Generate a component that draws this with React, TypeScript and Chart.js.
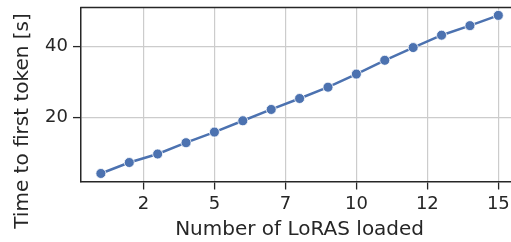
import React, { useEffect, useRef } from "react";
import { Chart, registerables } from "chart.js";

Chart.register(...registerables);

// ---- data ----
const loraCounts = [1, 2, 3, 4, 5, 6, 7, 8, 9, 10, 11, 12, 13, 14, 15];
const ttftSeconds = [4.1, 7.2, 9.6, 12.8, 15.8, 19.0, 22.2, 25.3, 28.5, 32.2, 36.1, 39.7, 43.2, 45.9, 48.8];
const xTickValues = [2.5, 5, 7.5, 10, 12.5, 15];
const xTickLabels = ["2", "5", "7", "10", "12", "15"];
const yTickValues = [20, 40];
const xLimits = [0.3, 15.7];
const yLimits = [1.83, 51.03];
const xTitle = "Number of LoRAS loaded";
const yTitle = "Time to first token [s]";

const TEXT = "#262626";
const BLUE = "#4C72B0";
const FONT = "'DejaVu Sans'";

const framePlugin = {
  id: "frameAndYTitle",
  afterDraw(chart: any) {
    const { ctx, chartArea } = chart;
    ctx.save();
    ctx.strokeStyle = TEXT;
    ctx.lineWidth = 1.5;
    ctx.beginPath();
    ctx.moveTo(chartArea.left - 0.75, chartArea.top);
    ctx.lineTo(chartArea.right + 0.75, chartArea.top);
    ctx.moveTo(chartArea.right, chartArea.top);
    ctx.lineTo(chartArea.right, chartArea.bottom);
    ctx.stroke();
    ctx.translate(28, 121);
    ctx.rotate(-Math.PI / 2);
    ctx.font = `20px ${FONT}`;
    ctx.fillStyle = TEXT;
    ctx.textAlign = "center";
    ctx.textBaseline = "alphabetic";
    ctx.fillText(yTitle, 0, 0);
    ctx.restore();
  },
};

const zeroPad = (scale: any) => {
  scale.paddingTop = 0;
  scale.paddingBottom = 0;
  scale.paddingLeft = 0;
  scale.paddingRight = 0;
};

export default function App() {
  const ref = useRef<HTMLCanvasElement>(null);

  useEffect(() => {
    if (!ref.current) return;
    const chart = new Chart(ref.current, {
      type: "line",
      data: {
        datasets: [
          {
            data: loraCounts.map((x, i) => ({ x, y: ttftSeconds[i] })),
            borderColor: BLUE,
            backgroundColor: BLUE,
            borderWidth: 2.5,
            pointRadius: 5,
            pointBackgroundColor: BLUE,
            pointBorderColor: "#ffffff",
            pointBorderWidth: 0.8,
            tension: 0,
          },
        ],
      },
      options: {
        animation: false,
        responsive: false,
        layout: { padding: { top: 7.5, left: 0, right: 1, bottom: 0 } },
        plugins: { legend: { display: false }, tooltip: { enabled: false } },
        scales: {
          x: {
            type: "linear",
            min: xLimits[0],
            max: xLimits[1],
            afterBuildTicks: (scale: any) => {
              scale.ticks = xTickValues.map((v) => ({ value: v }));
            },
            afterFit: (scale: any) => {
              scale.height = 60.5;
              zeroPad(scale);
            },
            ticks: {
              autoSkip: false,
              maxRotation: 0,
              padding: 4,
              color: TEXT,
              font: { family: FONT, size: 18 },
              callback: (_v: any, i: number) => xTickLabels[i],
            },
            grid: {
              color: "#cccccc",
              lineWidth: 1.2,
              tickColor: TEXT,
              tickLength: 8,
              tickWidth: 1.3,
            },
            border: { color: TEXT, width: 1.5 },
            title: {
              display: true,
              text: xTitle,
              color: TEXT,
              font: { family: FONT, size: 20 },
              padding: { top: 0, bottom: 0 },
            },
          },
          y: {
            type: "linear",
            min: yLimits[0],
            max: yLimits[1],
            afterBuildTicks: (scale: any) => {
              scale.ticks = yTickValues.map((v) => ({ value: v }));
            },
            afterFit: (scale: any) => {
              scale.width = 81;
              zeroPad(scale);
            },
            ticks: {
              padding: 5,
              color: TEXT,
              font: { family: FONT, size: 18 },
            },
            grid: {
              color: "#cccccc",
              lineWidth: 1.2,
              tickColor: TEXT,
              tickLength: 8,
              tickWidth: 1.3,
            },
            border: { color: TEXT, width: 1.5 },
          },
        },
      },
      plugins: [framePlugin],
    });
    return () => chart.destroy();
  }, []);

  return (
    <div
      style={{
        position: "fixed",
        left: 0,
        top: 0,
        width: 511,
        height: 242,
        overflow: "hidden",
        background: "#ffffff",
      }}
    >
      <canvas ref={ref} width={524} height={242} style={{ width: 524, height: 242, display: "block" }} />
    </div>
  );
}
